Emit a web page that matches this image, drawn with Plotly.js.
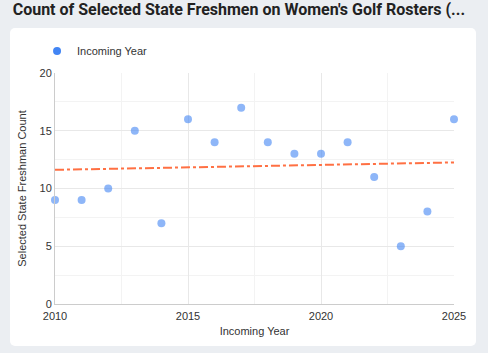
<!DOCTYPE html>
<html><head><meta charset="utf-8">
<script src="https://cdn.plot.ly/plotly-3.0.1.min.js"></script>
<style>
html,body{margin:0;padding:0;background:#ebeef2;}
#card{position:absolute;left:10px;top:28px;width:466px;height:318px;background:#fff;border-radius:5px;}
#chart{position:absolute;left:0;top:0;width:488px;height:353px;}
</style></head>
<body>
<div id="card"></div>
<div id="chart"></div>
<script>
const years = [2010,2011,2012,2013,2014,2015,2016,2017,2018,2019,2020,2021,2022,2023,2024,2025];
const counts = [9,9,10,15,7,16,14,17,14,13,13,14,11,5,8,16];
const seriesName = 'Incoming Year';

// least squares trend line from the data
const n = years.length;
const mx = years.reduce((a,b)=>a+b,0)/n;
const my = counts.reduce((a,b)=>a+b,0)/n;
let sxy=0, sxx=0;
for(let i=0;i<n;i++){sxy+=(years[i]-mx)*(counts[i]-my);sxx+=(years[i]-mx)**2;}
const slope=sxy/sxx, icpt=my-slope*mx;
const trendX=[years[0],years[n-1]];
const trendY=trendX.map(x=>icpt+slope*x);

const font='"Liberation Sans", Arial, sans-serif';
const traces=[
 {x:years,y:counts,type:'scatter',mode:'markers',showlegend:false,
  marker:{color:'#4285f4',opacity:0.6,size:8},cliponaxis:false,hoverinfo:'x+y'},
 {x:trendX,y:trendY,type:'scatter',mode:'lines',showlegend:false,
  line:{color:'#ff7043',width:2,dash:'dashdot'},hoverinfo:'skip'},
 {x:[null],y:[null],type:'scatter',mode:'markers',name:seriesName,
  marker:{color:'#4285f4',size:8}}
];
const layout={
 width:488,height:353,
 paper_bgcolor:'rgba(0,0,0,0)',plot_bgcolor:'rgba(0,0,0,0)',
 margin:{l:55,r:34,t:73,b:49},
 font:{family:font,size:11,color:'#444'},
 title:{text:"Count of Selected State Freshmen on Women's Golf Rosters (...",
   x:0.026,xanchor:'left',y:0.988,yanchor:'top',
   font:{family:'Roboto, "Liberation Sans", sans-serif',size:16,color:'#222',weight:'bold'}},
 showlegend:true,
 legend:{orientation:'h',x:-0.045,xanchor:'left',y:1.095,yanchor:'middle',
   font:{family:font,size:11,color:'#333'}},
 xaxis:{range:[2010,2025],dtick:5,tick0:2010,showgrid:true,gridcolor:'#e8e8e8',
   minor:{dtick:2.5,tick0:2010,showgrid:true,gridcolor:'#f3f3f3'},
   showline:true,linecolor:'#cccccc',linewidth:1,zeroline:false,ticks:'',
   ticklabelstandoff:2,
   tickfont:{size:11,color:'#333'},
   title:{text:'Incoming Year',font:{size:11,color:'#333'},standoff:6}},
 yaxis:{range:[0,20],dtick:5,showgrid:true,gridcolor:'#e8e8e8',
   minor:{dtick:2.5,showgrid:true,gridcolor:'#f3f3f3'},
   showline:true,linecolor:'#cccccc',linewidth:1,zeroline:false,ticks:'',
   tickfont:{size:11,color:'#333'},
   title:{text:'Selected State Freshman Count',font:{size:11,color:'#333'},standoff:10}}
};
Plotly.newPlot('chart',traces,layout,{displayModeBar:false,staticPlot:true});
</script>
</body></html>
